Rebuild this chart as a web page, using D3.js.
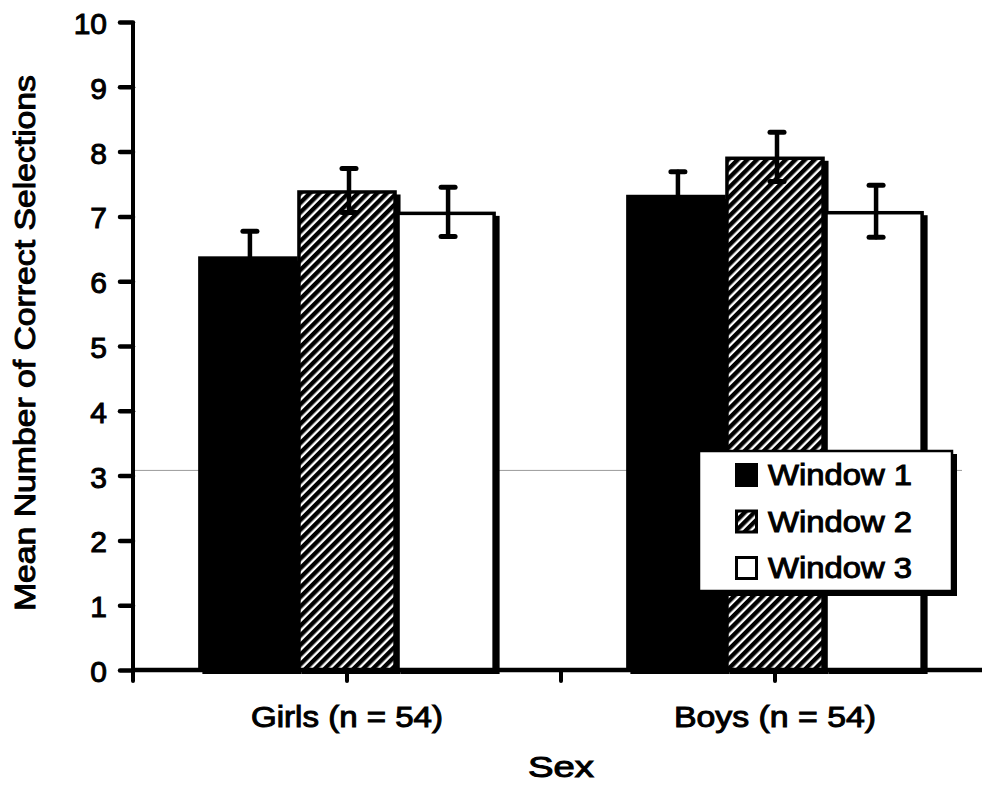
<!DOCTYPE html>
<html>
<head>
<meta charset="utf-8">
<script src="https://cdn.jsdelivr.net/npm/d3@7/dist/d3.min.js"></script>
<style>
  html, body { margin: 0; padding: 0; background: #fff; }
  svg { display: block; }
  text { font-family: "Liberation Sans", Arial, sans-serif; fill: #000; stroke: #000; stroke-width: 1px; }
</style>
</head>
<body>
<svg id="chart" width="982" height="789"></svg>
<script>
// Mean correct selections per viewing window, by sex
const categories = ["Girls (n = 54)", "Boys (n = 54)"];
const seriesNames = ["Window 1", "Window 2", "Window 3"];
const girlsMeans = [6.38, 7.40, 7.07];
const boysMeans = [7.33, 7.92, 7.08];
const girlsErrors = [0.39, 0.34, 0.38];
const boysErrors = [0.36, 0.38, 0.40];
const yTicks = [0, 1, 2, 3, 4, 5, 6, 7, 8, 9, 10];
const xTitle = "Sex";
const yTitle = "Mean Number of Correct Selections";

const means = [girlsMeans, boysMeans];
const errors = [girlsErrors, boysErrors];
const rows = [];
categories.forEach((c, ci) => {
  seriesNames.forEach((s, si) => {
    rows.push({ category: c, series: s, si, value: means[ci][si], err: errors[ci][si] });
  });
});

const svg = d3.select("#chart");
const plot = { left: 133, right: 989, top: 22, bottom: 670 };

const x = d3.scaleBand().domain(categories).range([plot.left, plot.right]).paddingInner(0).paddingOuter(0);
const xSub = d3.scaleBand().domain(seriesNames).range([0, x.bandwidth()]).paddingInner(0).paddingOuter(0.66);
const y = d3.scaleLinear().domain([0, 10]).range([plot.bottom, plot.top]);

// diagonal hatch for the second window
const defs = svg.append("defs");
defs.append("pattern")
  .attr("id", "hatch")
  .attr("patternUnits", "userSpaceOnUse")
  .attr("width", 6.8).attr("height", 6.8)
  .attr("patternTransform", "rotate(45)")
  .call(p => {
    p.append("rect").attr("width", 6.8).attr("height", 6.8).attr("fill", "#fff");
    p.append("rect").attr("width", 4.4).attr("height", 6.8).attr("fill", "#000");
  });

const fills = { "Window 1": "#000", "Window 2": "url(#hatch)", "Window 3": "#fff" };

// faint horizontal rule crossing the plot
svg.append("line")
  .attr("x1", plot.left).attr("x2", 962)
  .attr("y1", y(3.08)).attr("y2", y(3.08))
  .attr("stroke", "#9a9a9a").attr("stroke-width", 1);

// bars: a drop shadow behind each, then the bar itself
const bars = svg.append("g");
bars.selectAll("rect.shadow").data(rows).join("rect")
  .attr("class", "shadow")
  .attr("x", d => x(d.category) + xSub(d.series) + 4)
  .attr("y", d => y(d.value) + 4)
  .attr("width", xSub.bandwidth())
  .attr("height", d => y(0) - y(d.value))
  .attr("fill", "#000");
bars.selectAll("rect.bar").data(rows).join("rect")
  .attr("class", "bar")
  .attr("x", d => x(d.category) + xSub(d.series) + 1.5)
  .attr("y", d => y(d.value) + 1.5)
  .attr("width", xSub.bandwidth() - 3)
  .attr("height", d => y(0) - y(d.value) - 1.5)
  .attr("fill", d => fills[d.series])
  .attr("stroke", "#000").attr("stroke-width", 3.5);

// error bars
const eb = svg.append("g").attr("stroke", "#000").attr("stroke-linecap", "round");
rows.forEach(d => {
  const cx = x(d.category) + xSub(d.series) + xSub.bandwidth() / 2 + 2;
  const g = eb.append("g");
  g.append("line").attr("x1", cx).attr("x2", cx)
    .attr("y1", y(d.value + d.err)).attr("y2", y(d.value - d.err))
    .attr("stroke-width", 4.5);
  [d.value + d.err, d.value - d.err].forEach(v => {
    g.append("line").attr("x1", cx - 7).attr("x2", cx + 7)
      .attr("y1", y(v)).attr("y2", y(v)).attr("stroke-width", 5);
  });
});

// y axis
const yAxis = svg.append("g").attr("transform", `translate(${plot.left},0)`)
  .call(d3.axisLeft(y).tickValues(yTicks).tickSize(13).tickPadding(13).tickFormat(d3.format("d")));
yAxis.select(".domain").attr("stroke", "#000").attr("stroke-width", 4).attr("d", `M0,${plot.top}V${plot.bottom + 2}`);
yAxis.selectAll(".tick line").attr("stroke", "#000").attr("stroke-width", 4.5).attr("stroke-linecap", "round");
yAxis.selectAll(".tick text")
  .attr("font-size", 30).attr("font-family", "Liberation Sans, Arial, sans-serif")
  .attr("dy", "0.38em");

// x axis with ticks at band edges and band centres
const xTickPos = [];
categories.forEach(c => { xTickPos.push(x(c)); xTickPos.push(x(c) + x.bandwidth() / 2); });
const xg = svg.append("g");
xg.append("line").attr("x1", plot.left - 2).attr("x2", 982)
  .attr("y1", plot.bottom).attr("y2", plot.bottom)
  .attr("stroke", "#000").attr("stroke-width", 4.5);
xg.selectAll("line.tick").data(xTickPos).join("line")
  .attr("class", "tick")
  .attr("x1", d => d).attr("x2", d => d)
  .attr("y1", plot.bottom).attr("y2", plot.bottom + 11)
  .attr("stroke", "#000").attr("stroke-width", 4).attr("stroke-linecap", "round");

const catWidths = [192, 202];
xg.selectAll("text.cat").data(categories).join("text")
  .attr("class", "cat")
  .attr("x", (d, i) => x(d) + x.bandwidth() / 2 - catWidths[i] / 2)
  .attr("y", 727)
  .attr("font-size", 29)
  .attr("textLength", (d, i) => catWidths[i])
  .attr("lengthAdjust", "spacingAndGlyphs")
  .text(d => d);

svg.append("text")
  .attr("x", x(categories[1]) - 33).attr("y", 777)
  .attr("font-size", 29)
  .attr("textLength", 66).attr("lengthAdjust", "spacingAndGlyphs")
  .text(xTitle);

svg.append("text")
  .attr("transform", "translate(35,611) rotate(-90)")
  .attr("x", 0).attr("y", 0)
  .attr("font-size", 29)
  .attr("textLength", 536).attr("lengthAdjust", "spacingAndGlyphs")
  .text(yTitle);

// legend
const lg = svg.append("g").attr("transform", "translate(698,450)");
lg.append("rect").attr("x", 4).attr("y", 4).attr("width", 255).attr("height", 142).attr("fill", "#000");
lg.append("rect").attr("x", 1).attr("y", 1).attr("width", 253).attr("height", 140)
  .attr("fill", "#fff").attr("stroke", "#000").attr("stroke-width", 2.5);
seriesNames.forEach((s, i) => {
  const row = lg.append("g").attr("transform", `translate(37,${13 + i * 46.5})`);
  row.append("rect").attr("x", 1.5).attr("y", 1.5).attr("width", 20).attr("height", 21)
    .attr("fill", fills[s]).attr("stroke", "#000").attr("stroke-width", 3);
  row.append("text").attr("x", 33).attr("y", 22)
    .attr("font-size", 29)
    .attr("textLength", 144).attr("lengthAdjust", "spacingAndGlyphs")
    .text(s);
});
</script>
</body>
</html>
